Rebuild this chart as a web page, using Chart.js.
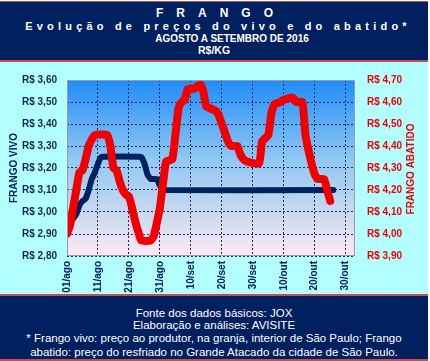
<!DOCTYPE html>
<html lang="pt-BR">
<head>
<meta charset="utf-8">
<script src="https://cdn.jsdelivr.net/npm/chart.js@4.4.1/dist/chart.umd.min.js"></script>
<style>
  html, body { margin: 0; padding: 0; }
  body { width: 430px; height: 361px; position: relative; background: #ffffff; overflow: hidden;
         font-family: "Liberation Sans", Arial, sans-serif; }
  .band { position: absolute; left: 0; width: 428px; background: #002060; color: #ffffff; }
  #header { top: 1px; height: 58px; border-top: 1px solid #b05a50; border-bottom: 2px solid #c0504d; }
  #footer { top: 294px; height: 63px; border-top: 2px solid #c0504d; border-bottom: 2px solid #c0504d; }
  .line { position: absolute; left: 0; width: 428px; text-align: center; font-weight: bold; line-height: 1; white-space: nowrap; }
  .fline { position: absolute; left: 0; width: 428px; text-align: center; font-size: 11.5px; line-height: 1; white-space: nowrap; }
  #body { position: absolute; left: 0; top: 62px; width: 428px; height: 232px; background: #b3ffff; }
  #wrap { position: absolute; left: 0; top: 62px; width: 430px; height: 232px; }
</style>
</head>
<body>
<div id="header" class="band">
  <div class="line" style="top:5px;font-size:12px;letter-spacing:13px;padding-left:7px;">FRANGO</div>
  <div class="line" style="top:19px;font-size:11px;letter-spacing:4.2px;padding-left:4px;">Evolução de preços do vivo e do abatido*</div>
  <div class="line" style="top:32px;font-size:10px;padding-left:18px;">AGOSTO A SETEMBRO DE 2016</div>
  <div class="line" style="top:43px;font-size:10.5px;">R$/KG</div>
</div>
<div id="body"></div>
<div id="wrap"><canvas id="c" width="430" height="232"></canvas></div>
<div id="footer" class="band">
  <div class="fline" style="top:12px;">Fonte dos dados básicos: JOX</div>
  <div class="fline" style="top:24px;">Elaboração e análises: AVISITE</div>
  <div class="fline" style="top:37px;">* Frango vivo: preço ao produtor, na granja, interior de São Paulo; Frango</div>
  <div class="fline" style="top:51px;">abatido: preço do resfriado no Grande Atacado da cidade de São Paulo.</div>
</div>
<script>
// Day index: 0 = 01/ago/2016
const xTickDays   = [0, 10, 20, 30, 40, 50, 60, 70, 80, 90];
const xTickLabels = ['01/ago','11/ago','21/ago','31/ago','10/set','20/set','30/set','10/out','20/out','30/out'];

const vivoDays   = [0, 1, 2, 3, 4, 5, 6, 7, 8, 9, 10, 11, 24, 25, 26, 27, 29, 30, 31, 86];
const vivoValues = [2.95, 2.95, 2.97, 2.99, 3.03, 3.05, 3.06, 3.10, 3.15, 3.18, 3.22, 3.25, 3.25, 3.22, 3.17, 3.15, 3.15, 3.12, 3.10, 3.10];

const abatidoDays   = [0, 1, 2, 3, 4, 5, 6, 7, 8, 9, 13, 14, 15, 16, 17, 18, 19, 20, 21, 22, 23, 24, 27, 28, 29, 30, 31, 32, 34, 35, 36, 37, 38, 39, 41, 43, 44, 45, 48, 49, 50, 51, 52, 53, 55, 56, 57, 58, 62, 63, 65, 66, 67, 69, 70, 73, 74, 76, 77, 78, 79, 80, 81, 83, 84, 85];
const abatidoValues = [4.00, 4.04, 4.12, 4.20, 4.28, 4.29, 4.34, 4.40, 4.43, 4.45, 4.45, 4.40, 4.30, 4.29, 4.24, 4.20, 4.18, 4.17, 4.12, 4.06, 4.01, 3.97, 3.97, 3.99, 4.05, 4.12, 4.23, 4.33, 4.34, 4.45, 4.57, 4.60, 4.61, 4.66, 4.66, 4.68, 4.65, 4.58, 4.56, 4.54, 4.50, 4.46, 4.42, 4.40, 4.40, 4.36, 4.34, 4.33, 4.32, 4.42, 4.45, 4.55, 4.59, 4.60, 4.61, 4.62, 4.60, 4.60, 4.45, 4.38, 4.32, 4.27, 4.25, 4.25, 4.20, 4.15];

const NAVY = '#002060';
const RED = '#f00000';
const FONT = "'Liberation Sans', Arial, sans-serif";

const toXY = (xs, ys) => xs.map((x, i) => ({ x: x, y: ys[i] }));
const fmt = v => 'R$ ' + Number(v).toFixed(2).replace('.', ',');

const plotDeco = {
  id: 'plotDeco',
  beforeDraw(chart) {
    const { ctx, chartArea: a } = chart;
    const g = ctx.createLinearGradient(0, a.top, 0, a.bottom);
    g.addColorStop(0, '#1f8cfa');
    g.addColorStop(0.45, '#8fc8f2');
    g.addColorStop(0.75, '#c8d8ee');
    g.addColorStop(1, '#ffe9f6');
    ctx.save();
    ctx.fillStyle = g;
    ctx.fillRect(a.left, a.top, a.right - a.left, a.bottom - a.top);
    ctx.restore();
  },
  afterDraw(chart) {
    const { ctx, chartArea: a } = chart;
    ctx.save();
    ctx.strokeStyle = '#9a9aa8';
    ctx.lineWidth = 1;
    ctx.strokeRect(a.left + 0.5, a.top + 0.5, a.right - a.left - 1, a.bottom - a.top - 1);
    // right axis title (reads bottom to top)
    ctx.translate(411.5, (a.top + a.bottom) / 2 + 1);
    ctx.rotate(-Math.PI / 2);
    ctx.fillStyle = RED;
    ctx.font = 'bold 10px ' + FONT;
    ctx.textAlign = 'center';
    ctx.textBaseline = 'middle';
    ctx.fillText('FRANGO ABATIDO', 0, 0);
    ctx.restore();
  }
};

new Chart(document.getElementById('c'), {
  type: 'line',
  data: {
    datasets: [
      {
        label: 'Frango abatido',
        data: toXY(abatidoDays, abatidoValues),
        yAxisID: 'yR',
        borderColor: RED,
        backgroundColor: RED,
        borderWidth: 8,
        borderCapStyle: 'round',
        borderJoinStyle: 'round',
        pointRadius: 0,
        tension: 0.15,
        fill: false
      },
      {
        label: 'Frango vivo',
        data: toXY(vivoDays, vivoValues),
        yAxisID: 'yL',
        borderColor: NAVY,
        backgroundColor: NAVY,
        borderWidth: 6,
        borderCapStyle: 'round',
        borderJoinStyle: 'round',
        pointRadius: 0,
        tension: 0.1,
        fill: false
      }
    ]
  },
  options: {
    responsive: false,
    animation: false,
    events: [],
    layout: { padding: { top: 12, left: 0, right: 0, bottom: 0 } },
    plugins: { legend: { display: false }, tooltip: { enabled: false }, title: { display: false } },
    scales: {
      x: {
        type: 'linear',
        min: 0,
        max: 93,
        afterBuildTicks: (s) => { s.ticks = xTickDays.map(v => ({ value: v })); },
        ticks: {
          autoSkip: false,
          maxRotation: 90,
          minRotation: 90,
          padding: 5,
          color: NAVY,
          font: { family: FONT, size: 10, weight: 'bold' },
          callback: (v) => {
            const i = xTickDays.indexOf(v);
            return i >= 0 ? xTickLabels[i] : null;
          }
        },
        grid: { color: '#1a2e66', lineWidth: 1, drawTicks: false },
        border: { display: false, dash: [2, 2] },
        afterFit: (s) => { s.height = 38; }
      },
      yL: {
        type: 'linear',
        position: 'left',
        min: 2.8,
        max: 3.6,
        ticks: {
          stepSize: 0.1,
          padding: 10,
          color: '#10285a',
          font: { family: FONT, size: 10, weight: 'bold' },
          callback: (v) => fmt(v)
        },
        grid: { color: '#1a2e66', lineWidth: 1, drawTicks: false },
        border: { display: false, dash: [2, 2] },
        title: {
          display: true,
          text: 'FRANGO VIVO',
          color: NAVY,
          font: { family: FONT, size: 10, weight: 'bold' },
          padding: { top: 8, bottom: 0 }
        },
        afterFit: (s) => { s.width = 67; }
      },
      yR: {
        type: 'linear',
        position: 'right',
        min: 3.9,
        max: 4.7,
        ticks: {
          stepSize: 0.1,
          padding: 12,
          color: RED,
          font: { family: FONT, size: 10, weight: 'bold' },
          callback: (v) => fmt(v)
        },
        grid: { display: false, drawTicks: false },
        border: { display: false },
        afterFit: (s) => { s.width = 75; }
      }
    }
  },
  plugins: [plotDeco]
});
</script>
</body>
</html>
